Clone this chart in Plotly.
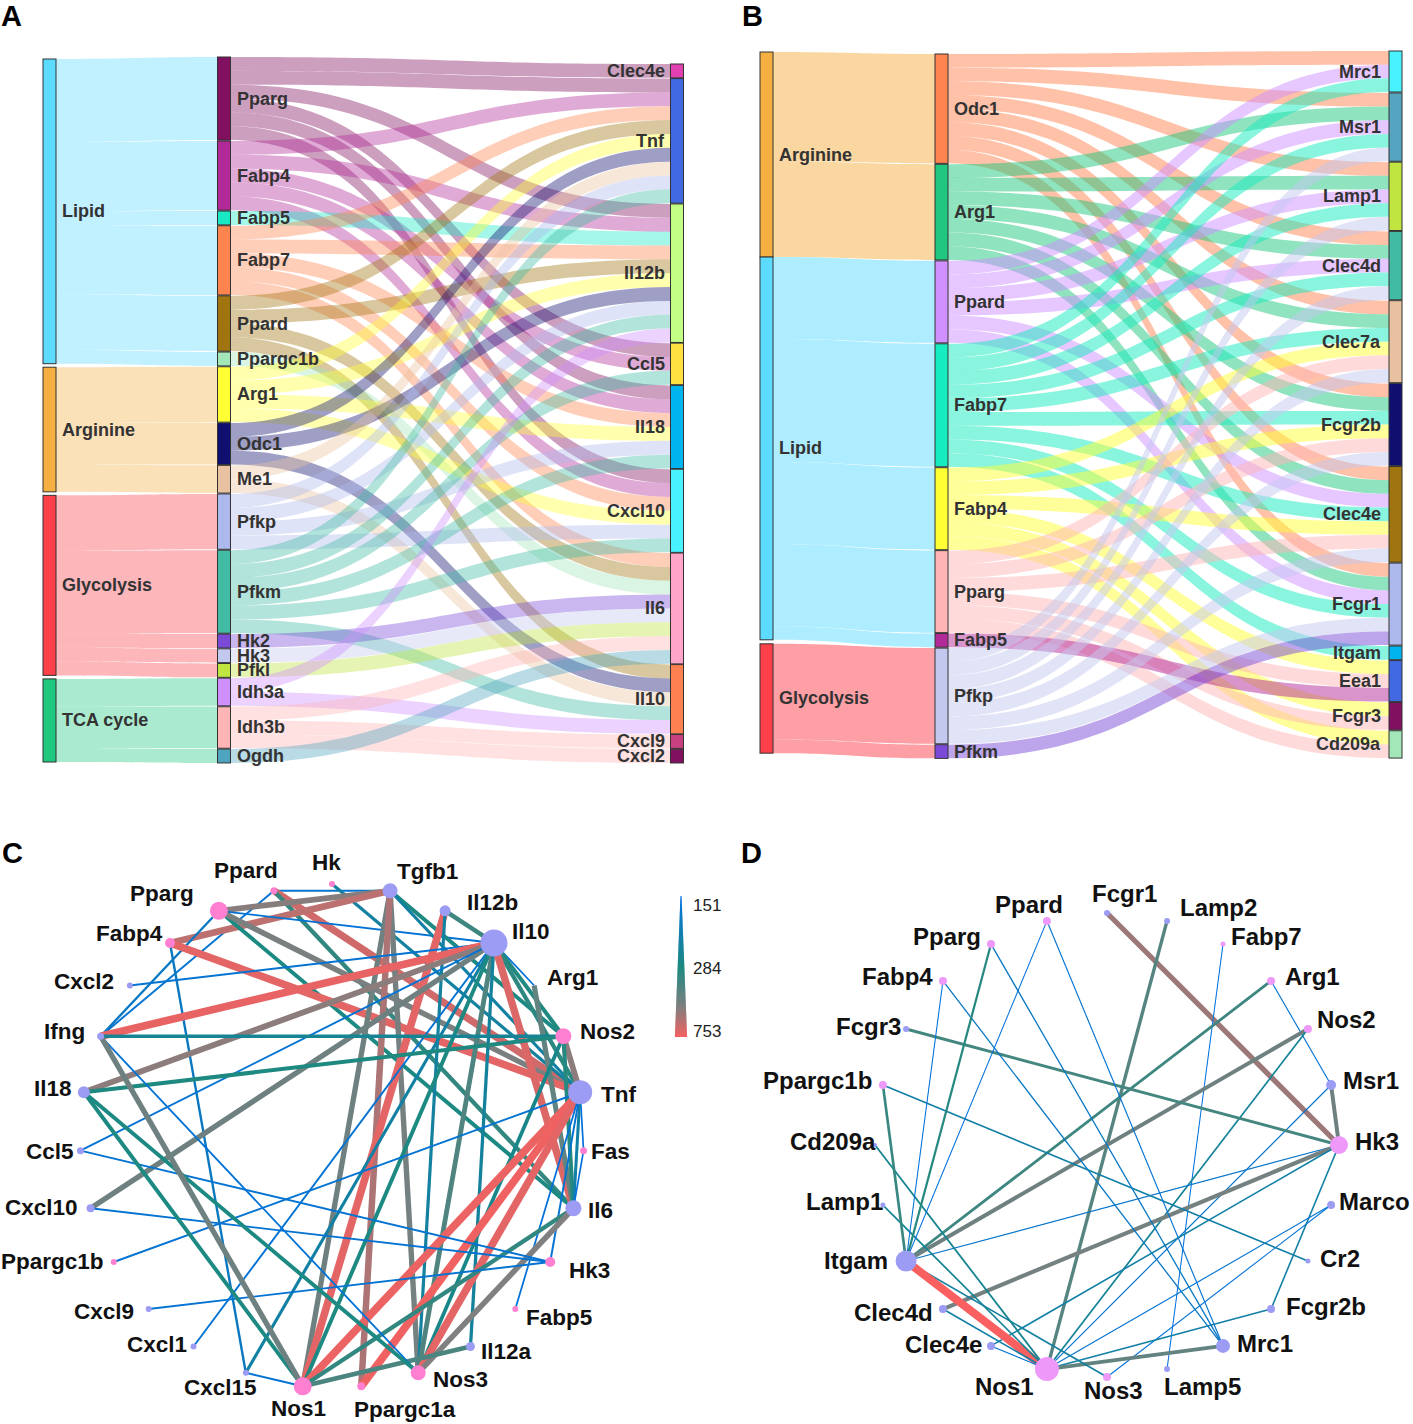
import numpy as np
import plotly.graph_objects as go

FONT = "Liberation Sans"
W, H = 1413, 1424

# ---------- Panel A data ----------
A_PATHWAYS = ["Lipid", "Arginine", "Glycolysis", "TCA cycle"]
A_PATHWAY_GENES = {
    "Lipid": ["Pparg", "Fabp4", "Fabp5", "Fabp7", "Ppard", "Ppargc1b"],
    "Arginine": ["Arg1", "Odc1", "Me1"],
    "Glycolysis": ["Pfkp", "Pfkm", "Hk2", "Hk3", "Pfkl"],
    "TCA cycle": ["Idh3a", "Idh3b", "Ogdh"],
}
A_GENE_TARGETS = {
    "Pparg": ["Clec4e", "Tnf", "Il12b", "Ccl5", "Il18", "Cxcl10"],
    "Fabp4": ["Tnf", "Il12b", "Ccl5", "Il18", "Cxcl10"],
    "Fabp5": ["Il12b"],
    "Fabp7": ["Tnf", "Il12b", "Il18", "Cxcl10", "Il6"],
    "Ppard": ["Tnf", "Il12b", "Il6", "Il10"],
    "Ppargc1b": ["Il6"],
    "Arg1": ["Tnf", "Il12b", "Il18", "Cxcl10"],
    "Odc1": ["Tnf", "Il12b", "Il10"],
    "Me1": ["Tnf", "Il10"],
    "Pfkp": ["Tnf", "Il12b", "Il18", "Cxcl10"],
    "Pfkm": ["Tnf", "Il12b", "Ccl5", "Il18", "Cxcl10", "Il10"],
    "Hk2": ["Il6"],
    "Hk3": ["Il6"],
    "Pfkl": ["Il6"],
    "Idh3a": ["Il12b", "Il10"],
    "Idh3b": ["Il6", "Cxcl9", "Cxcl2"],
    "Ogdh": ["Il6"],
}
A_TARGETS = ["Clec4e", "Tnf", "Il12b", "Ccl5", "Il18", "Cxcl10", "Il6", "Il10", "Cxcl9", "Cxcl2"]
A_COLORS = {
    "Lipid": "#5cdbff", "Arginine": "#f5b041", "Glycolysis": "#fb4049", "TCA cycle": "#1fc87e",
    "Pparg": "#821060", "Fabp4": "#b22a98", "Fabp5": "#19e8c5", "Fabp7": "#ff8450", "Ppard": "#a07510",
    "Ppargc1b": "#a3e6b8", "Arg1": "#ffff33", "Odc1": "#0f0f70", "Me1": "#e8c2a0", "Pfkp": "#adb9ec",
    "Pfkm": "#42bba5", "Hk2": "#7b4bd8", "Hk3": "#c3c8ef", "Pfkl": "#c0e440", "Idh3a": "#d08fff",
    "Idh3b": "#ffb5b5", "Ogdh": "#4fa5c0",
    "Clec4e": "#e040b0", "Tnf": "#4169e1", "Il12b": "#c3ff85", "Ccl5": "#ffe040", "Il18": "#00b4f0",
    "Cxcl10": "#48f3ff", "Il6": "#ffa5c8", "Il10": "#ff8050", "Cxcl9": "#c84080", "Cxcl2": "#821060",
}

# ---------- Panel B data ----------
B_PATHWAYS = ["Arginine", "Lipid", "Glycolysis"]
B_PATHWAY_GENES = {
    "Arginine": ["Odc1", "Arg1"],
    "Lipid": ["Ppard", "Fabp7", "Fabp4", "Pparg", "Fabp5"],
    "Glycolysis": ["Pfkp", "Pfkm"],
}
B_GENE_TARGETS = {
    "Odc1": ["Mrc1", "Msr1", "Lamp1", "Clec4d", "Clec7a", "Fcgr2b", "Clec4e", "Fcgr1"],
    "Arg1": ["Msr1", "Lamp1", "Clec4d", "Clec7a", "Fcgr2b", "Clec4e", "Fcgr1"],
    "Ppard": ["Mrc1", "Msr1", "Lamp1", "Clec4d", "Clec4e", "Fcgr1"],
    "Fabp7": ["Mrc1", "Msr1", "Lamp1", "Clec4d", "Clec7a", "Fcgr2b", "Clec4e", "Fcgr1", "Itgam"],
    "Fabp4": ["Clec7a", "Fcgr2b", "Clec4e", "Eea1", "Fcgr3", "Cd209a"],
    "Pparg": ["Clec7a", "Fcgr2b", "Clec4e", "Eea1", "Fcgr3", "Cd209a"],
    "Fabp5": ["Eea1"],
    "Pfkp": ["Msr1", "Lamp1", "Clec4d", "Clec7a", "Fcgr2b", "Clec4e", "Fcgr1"],
    "Pfkm": ["Fcgr1"],
}
B_TARGETS = ["Mrc1", "Msr1", "Lamp1", "Clec4d", "Clec7a", "Fcgr2b", "Clec4e", "Fcgr1", "Itgam", "Eea1", "Fcgr3", "Cd209a"]
B_COLORS = {
    "Arginine": "#f5b041", "Lipid": "#5cdbff", "Glycolysis": "#fb4049",
    "Odc1": "#ff8450", "Arg1": "#1fc87e", "Ppard": "#d090ff", "Fabp7": "#15ecc0", "Fabp4": "#ffff33",
    "Pparg": "#ffb5b5", "Fabp5": "#b22a98", "Pfkp": "#c3c8ef", "Pfkm": "#7b4bd8",
    "Mrc1": "#48f3ff", "Msr1": "#55a5c0", "Lamp1": "#c0e440", "Clec4d": "#42bba5", "Clec7a": "#e8c2a0",
    "Fcgr2b": "#0f0f70", "Clec4e": "#a07510", "Fcgr1": "#adb9ec", "Itgam": "#00b4f0", "Eea1": "#4169e1",
    "Fcgr3": "#821060", "Cd209a": "#a3e6b8",
}

# ---------- Panel C data ----------
C_NODES = ["Hk", "Tgfb1", "Il12b", "Il10", "Arg1", "Nos2", "Tnf", "Fas", "Il6", "Hk3", "Fabp5", "Il12a", "Nos3",
           "Ppargc1a", "Nos1", "Cxcl15", "Cxcl1", "Cxcl9", "Ppargc1b", "Cxcl10", "Ccl5", "Il18", "Ifng", "Cxcl2",
           "Fabp4", "Pparg", "Ppard"]
C_SIZES = [6, 15, 11, 27, 1, 16, 24, 7, 16, 10, 6, 9, 15, 8, 18, 6, 6, 6, 6, 8, 7, 12, 7, 6, 10, 18, 7]
C_GENES = ["Hk", "Arg1", "Nos2", "Fas", "Hk3", "Fabp5", "Nos3", "Ppargc1a", "Nos1", "Ppargc1b", "Fabp4", "Pparg", "Ppard"]
C_LABEL_DX = [-6, 37, 47, 37, 38, 44, 38, 27, 27, 39, 44, 36, 42, 44, -4, -25, -37, -45, -61, -49, -30, -31, -36, -46, -41, -57, -28]
C_LABEL_DY = [-22, -19, -8, -11, -8, -5, 2, 1, 2, 8, 9, 5, 7, 23, 22, 15, -2, 3, -1, -1, 1, -4, -5, -4, -9, -17, -20]
C_EDGES = [
    ("Ppard", "Tgfb1", 175), ("Ppard", "Ifng", 170), ("Ppard", "Tnf", 650), ("Ppard", "Il6", 320),
    ("Hk", "Tnf", 240), ("Pparg", "Tgfb1", 470), ("Fabp4", "Tgfb1", 600), ("Pparg", "Il10", 165),
    ("Pparg", "Ifng", 190), ("Pparg", "Il6", 280), ("Pparg", "Tnf", 440), ("Fabp4", "Tnf", 700),
    ("Fabp4", "Cxcl15", 195), ("Tgfb1", "Nos1", 420), ("Tgfb1", "Nos3", 430), ("Tgfb1", "Ppargc1a", 560),
    ("Tgfb1", "Nos2", 280), ("Tgfb1", "Tnf", 235), ("Il12b", "Il10", 340), ("Il12b", "Nos1", 700),
    ("Il12b", "Nos3", 240), ("Il10", "Cxcl2", 170), ("Il10", "Ifng", 710), ("Il10", "Il18", 480),
    ("Il10", "Cxcl10", 420), ("Il10", "Ccl5", 170), ("Il10", "Cxcl1", 170), ("Il10", "Cxcl15", 235),
    ("Il10", "Nos1", 280), ("Il10", "Nos3", 370), ("Il10", "Il12a", 245), ("Il10", "Arg1", 160),
    ("Il10", "Nos2", 290), ("Il10", "Tnf", 310), ("Il10", "Il6", 680), ("Arg1", "Il6", 400),
    ("Nos2", "Ifng", 255), ("Nos2", "Il18", 285), ("Nos2", "Tnf", 480), ("Nos2", "Il6", 300),
    ("Nos2", "Nos3", 270), ("Tnf", "Nos1", 720), ("Tnf", "Ppargc1a", 730), ("Tnf", "Nos3", 700),
    ("Tnf", "Ppargc1b", 170), ("Tnf", "Fas", 155), ("Tnf", "Il6", 230), ("Tnf", "Hk3", 170),
    ("Tnf", "Fabp5", 160), ("Fas", "Il6", 155), ("Il6", "Nos1", 320), ("Il6", "Nos3", 450),
    ("Hk3", "Ccl5", 170), ("Hk3", "Cxcl10", 170), ("Hk3", "Cxcl9", 170), ("Il12a", "Nos1", 360),
    ("Nos3", "Ifng", 165), ("Nos3", "Il18", 280), ("Nos1", "Il18", 280), ("Nos1", "Ifng", 420),
    ("Nos1", "Cxcl15", 170),
]

# ---------- Panel D data ----------
D_NODES = ["Fcgr1", "Lamp2", "Fabp7", "Arg1", "Nos2", "Msr1", "Hk3", "Marco", "Cr2", "Fcgr2b", "Mrc1", "Lamp5",
           "Nos3", "Nos1", "Clec4e", "Clec4d", "Itgam", "Lamp1", "Cd209a", "Ppargc1b", "Fcgr3", "Fabp4", "Pparg", "Ppard"]
D_SIZES = [6, 6, 5, 8, 8, 10, 18, 8, 5, 8, 14, 6, 8, 24, 8, 8, 21, 5, 4, 8, 6, 8, 8, 8]
D_GENES = ["Fabp7", "Arg1", "Nos2", "Hk3", "Nos3", "Nos1", "Ppargc1b", "Fabp4", "Pparg", "Ppard"]
D_LABEL_DX = [17, 51, 43, 41, 39, 40, 38, 43, 32, 55, 42, 35, 6, -42, -48, -49, -50, -38, -42, -65, -38, -45, -44, -18]
D_LABEL_DY = [-20, -13, -8, -4, -10, -4, -4, -4, -3, -3, -2, 17, 13, 17, -1, 3, -1, -4, -4, -4, -3, -4, -8, -16]
D_EDGES = [
    ("Fcgr1", "Hk3", 520), ("Lamp2", "Nos1", 380), ("Fabp7", "Lamp5", 155), ("Arg1", "Itgam", 340),
    ("Arg1", "Msr1", 170), ("Nos2", "Itgam", 420), ("Nos2", "Nos1", 250), ("Msr1", "Hk3", 420),
    ("Nos1", "Msr1", 178), ("Hk3", "Fcgr3", 350), ("Hk3", "Itgam", 180), ("Hk3", "Clec4d", 430),
    ("Hk3", "Clec4e", 230), ("Hk3", "Fcgr2b", 230), ("Marco", "Nos1", 170), ("Marco", "Nos3", 165),
    ("Cr2", "Ppargc1b", 230), ("Fcgr2b", "Nos1", 230), ("Mrc1", "Nos1", 400), ("Mrc1", "Pparg", 190),
    ("Mrc1", "Ppard", 170), ("Mrc1", "Fabp4", 190), ("Nos3", "Itgam", 240), ("Nos1", "Itgam", 753),
    ("Nos1", "Clec4d", 230), ("Nos1", "Clec4e", 170), ("Nos1", "Cd209a", 260), ("Nos1", "Lamp1", 250),
    ("Itgam", "Ppargc1b", 330), ("Itgam", "Fabp4", 160), ("Itgam", "Pparg", 300), ("Itgam", "Ppard", 155),
]

LEGEND_VALUES = [151, 284, 753]
PANEL_LETTERS = ["A", "B", "C", "D"]

fig = go.Figure()


def hex_rgba(h, a):
    h = h.lstrip("#")
    return f"rgba({int(h[:2],16)},{int(h[2:4],16)},{int(h[4:],16)},{a})"


def col_positions(values, top, gaps, unit):
    ys, y = [], top
    for i, v in enumerate(values):
        ys.append(y + v * unit / 2)
        y += v * unit
        if i < len(values) - 1:
            y += gaps if np.isscalar(gaps) else gaps[i]
    return ys


def build_sankey(pathways, members, targets_of, targets, colors, px_x, px_y, col_x, tops, gaps, unit,
                 path_alpha, gene_alpha, text_pad):
    genes = [g for p in pathways for g in members[p]]
    gene_val = {g: len(targets_of[g]) for g in genes}
    path_val = [sum(gene_val[g] for g in members[p]) for p in pathways]
    tgt_val = [sum(t in targets_of[g] for g in genes) for t in targets]
    labels = pathways + genes + targets
    idx_p = {p: i for i, p in enumerate(pathways)}
    idx_g = {g: i + len(pathways) for i, g in enumerate(genes)}
    idx_t = {t: i + len(pathways) + len(genes) for i, t in enumerate(targets)}
    src, tgt, val, lcol = [], [], [], []
    for p in pathways:
        for g in members[p]:
            src.append(idx_p[p]); tgt.append(idx_g[g]); val.append(gene_val[g])
            lcol.append(hex_rgba(colors[p], path_alpha))
    for g in genes:
        for t in targets_of[g]:
            src.append(idx_g[g]); tgt.append(idx_t[t]); val.append(1)
            lcol.append(hex_rgba(colors[g], gene_alpha))
    total = sum(path_val)
    height = px_y[1] - px_y[0]
    width = px_x[1] - px_x[0]
    pad = (height - total * unit) / (max(len(pathways), len(genes), len(targets)) - 1)
    ys = (col_positions(path_val, tops[0], gaps[0], unit)
          + col_positions([gene_val[g] for g in genes], tops[1], gaps[1], unit)
          + col_positions(tgt_val, tops[2], gaps[2], unit))
    xs = [col_x[0]] * len(pathways) + [col_x[1]] * len(genes) + [col_x[2]] * len(targets)
    node_colors = [colors[p] for p in pathways] + [colors[g] for g in genes] + [colors[t] for t in targets]
    n_left = len(pathways) + len(genes)
    for i, (lab, x, y) in enumerate(zip(labels, xs, ys)):
        left = i < n_left
        fig.add_annotation(x=x + (6.5 + text_pad[0] if left else -6.5 - text_pad[1]), y=y, text=lab, showarrow=False,
                           xanchor="left" if left else "right", yanchor="middle",
                           font=dict(family=FONT, size=18, color="#333333", weight="bold"))
    return go.Sankey(
        arrangement="fixed",
        domain=dict(x=[px_x[0] / W, px_x[1] / W], y=[1 - px_y[1] / H, 1 - px_y[0] / H]),
        node=dict(label=[""] * len(labels), color=node_colors, thickness=13, pad=pad,
                  line=dict(color="#333333", width=1),
                  x=[(x - px_x[0]) / width for x in xs],
                  y=[(y - px_y[0]) / height for y in ys]),
        link=dict(source=src, target=tgt, value=val, color=lcol),
    )


fig.add_trace(build_sankey(A_PATHWAYS, A_PATHWAY_GENES, A_GENE_TARGETS, A_TARGETS, A_COLORS,
                           (43, 684), (57, 763), (49.5, 224, 677), (59, 57, 64), (3.5, 0.84, 0.72), 13.85, 0.38, 0.4, (4, 4)))
fig.add_trace(build_sankey(B_PATHWAYS, B_PATHWAY_GENES, B_GENE_TARGETS, B_TARGETS, B_COLORS,
                           (760, 1402), (51, 758), (766.5, 941.5, 1395.5), (52, 54, 51), ([0, 4], 0.9, 0.9), 13.67, 0.5, 0.5, (3.5, 6)))

# weight -> colour / width scale
W_STOPS = [151, 284, 450, 753]
R_STOPS = [0, 29, 128, 250]
G_STOPS = [112, 138, 128, 96]
B_STOPS = [224, 128, 128, 96]


def edge_color(w):
    return "rgb(%d,%d,%d)" % (np.interp(w, W_STOPS, R_STOPS), np.interp(w, W_STOPS, G_STOPS), np.interp(w, W_STOPS, B_STOPS))


def add_network(nodes, sizes, genes, edges, cx, cy, r, dx, dy, gene_color, other_color, lw_stops, font_size):
    ang = 2 * np.pi * np.arange(len(nodes)) / len(nodes)
    xs = cx + r * np.sin(ang)
    ys = cy - r * np.cos(ang)
    pos = {n: (x, y) for n, x, y in zip(nodes, xs, ys)}
    for a, b, w in edges:
        fig.add_trace(go.Scatter(x=[pos[a][0], pos[b][0]], y=[pos[a][1], pos[b][1]], mode="lines",
                                 line=dict(color=edge_color(w), width=float(np.interp(w, W_STOPS, lw_stops))),
                                 hoverinfo="skip", showlegend=False))
    fig.add_trace(go.Scatter(x=xs, y=ys, mode="markers", text=nodes, hoverinfo="text", showlegend=False,
                             marker=dict(size=sizes, opacity=1, color=[gene_color if n in genes else other_color for n in nodes],
                                         line=dict(width=0))))
    for n, x, y, ox, oy in zip(nodes, xs, ys, dx, dy):
        fig.add_annotation(x=x + ox, y=y + oy, text=n, showarrow=False, xanchor="center", yanchor="middle",
                           font=dict(family=FONT, size=font_size, color="#111111", weight="bold"))


add_network(C_NODES, C_SIZES, C_GENES, C_EDGES, 332, 1136, 252, C_LABEL_DX, C_LABEL_DY, "#ff80d0", "#9c9cf5",
            [1.6, 4.0, 5.6, 8.0], 22.5)
add_network(D_NODES, D_SIZES, D_GENES, D_EDGES, 1107, 1145, 232, D_LABEL_DX, D_LABEL_DY, "#ee99fa", "#9c9cf5",
            [1.0, 2.0, 4.4, 8.0], 24)

# tapered colour legend
shapes = []
N = 70
L_TOP, L_BOT, L_X = 896, 1037, 681
LEG_T = [0, 0.5, 0.78, 1]
for i in range(N):
    t = i / N
    col = "rgb(%d,%d,%d)" % (np.interp(t, LEG_T, R_STOPS), np.interp(t, LEG_T, G_STOPS), np.interp(t, LEG_T, B_STOPS))
    hw = 0.6 + 5.6 * t
    y0 = L_TOP + (L_BOT - L_TOP) * t
    y1 = L_TOP + (L_BOT - L_TOP) * (i + 1.3) / N
    shapes.append(dict(type="rect", xref="x", yref="y", x0=L_X - hw, x1=L_X + hw, y0=y0, y1=min(y1, L_BOT),
                       fillcolor=col, line=dict(width=0), layer="above"))
for v, y in zip(LEGEND_VALUES, (905, 968, 1031)):
    fig.add_annotation(x=707, y=y, text=str(v), showarrow=False, xanchor="center", yanchor="middle",
                       font=dict(family=FONT, size=17, color="#222222"))

# panel letters
for s, (x, y) in zip(PANEL_LETTERS, ((11, 16), (752, 16), (12, 853), (751, 853))):
    fig.add_annotation(x=x, y=y, text=s, showarrow=False, xanchor="center", yanchor="middle",
                       font=dict(family=FONT, size=29, color="#000000", weight="bold"))

fig.update_layout(
    width=W, height=H, margin=dict(l=0, r=0, t=0, b=0), paper_bgcolor="white", plot_bgcolor="white",
    showlegend=False, shapes=shapes,
    xaxis=dict(range=[0, W], visible=False, domain=[0, 1]),
    yaxis=dict(range=[H, 0], visible=False, domain=[0, 1]),
)
fig.write_html("out.html", config={"displayModeBar": False}, post_script="document.body.style.margin='0';")
